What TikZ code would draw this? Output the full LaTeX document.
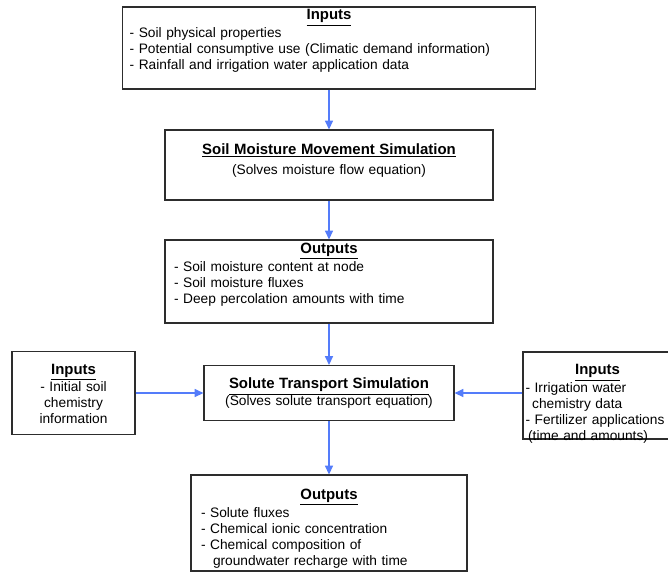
\documentclass[tikz,border=0pt]{standalone}
\usepackage{fontspec}
\setmainfont{Liberation Sans}
\usepackage{xcolor}
\usetikzlibrary{arrows.meta, positioning}
\setlength{\parindent}{0pt}
\definecolor{flow}{RGB}{84,124,250}
\definecolor{dark}{RGB}{45,45,45}
\tikzset{
    box/.style={rectangle, draw=dark, line width=0.9pt, fill=white, inner sep=0pt},
    body/.style={inner sep=0pt, align=left, font=\fontsize{10.3}{12}\selectfont},
    arr/.style={-{Triangle[length=6.5pt, width=6pt]}, line width=1.1pt, flow}
}
\newcommand{\heading}[2][1.5pt]{{\centering\fontsize{11.2}{12}\selectfont\bfseries\underline{#2}\par}\vspace{#1}}

\begin{document}
\begin{tikzpicture}[x=0.75pt, y=-0.75pt]
    \useasboundingbox (0,0) rectangle (668,572);
    \clip (0,0) rectangle (668,572);
    % frames
    \node[box, minimum width=309.75pt, minimum height=61.5pt] (inputs) at (329,48) {};
    \node[box, minimum width=246pt, minimum height=52.5pt] (moisture) at (329,165) {};
    \node[box, minimum width=246pt, minimum height=62.25pt] (moistout) at (329,281.5) {};
    \node[box, minimum width=92.25pt, minimum height=62.25pt] (chemin) at (73.5,393) {};
    \node[box, minimum width=187.5pt, minimum height=41.25pt] (solute) at (329,393) {};
    \node[box, minimum width=111.75pt, minimum height=65.25pt] (fertin) at (597.5,395.5) {};
    \node[box, minimum width=207pt, minimum height=72pt] (soluteout) at (329,523) {};
    % texts
    \node[body, text width=299pt, below=2.25pt of inputs.north] (inputstxt) {\heading{Inputs}- Soil physical properties\\ - Potential consumptive use (Climatic demand information)\\ - Rainfall and irrigation water application data};
    \node[body, align=center, text width=246pt, below=10.5pt of moisture.north] (moisturetxt) {\heading[3pt]{Soil Moisture Movement Simulation}(Solves moisture flow equation)};
    \node[body, text width=232.5pt, below=2.25pt of moistout.north] (moistouttxt) {\heading{Outputs}- Soil moisture content at node\\ - Soil moisture fluxes\\ - Deep percolation amounts with time};
    \node[body, align=center, text width=84pt, below=9.75pt of chemin.north] (chemintxt) {\heading[0.5pt]{Inputs}- Initial soil\\ chemistry\\ information};
    \node[body, align=center, text width=187.5pt, below=9.75pt of solute.north] (solutetxt) {\heading[0.5pt]{Solute Transport Simulation}(Solves solute transport equation)};
    \node[body, text width=108pt, below=9.75pt of fertin.north] (fertintxt) {\heading{Inputs}- Irrigation water\\ \hspace*{5pt}chemistry data\\ \mbox{- Fertilizer applications}\\ \hspace*{2pt}(time and amounts)};
    \node[body, text width=192pt, below=10.5pt of soluteout.north] (soluteouttxt) {\heading{Outputs}- Solute fluxes\\ - Chemical ionic concentration\\ - Chemical composition of\\ \hspace*{9pt}groundwater recharge with time};
    % connectors
    \draw[arr] (inputs) -- (moisture);
    \draw[arr] (moisture) -- (moistout);
    \draw[arr] (moistout) -- (solute);
    \draw[arr] (solute) -- (soluteout);
    \draw[arr] (chemin) -- (solute);
    \draw[arr] (fertin.west |- solute.east) -- (solute.east);
\end{tikzpicture}
\end{document}
